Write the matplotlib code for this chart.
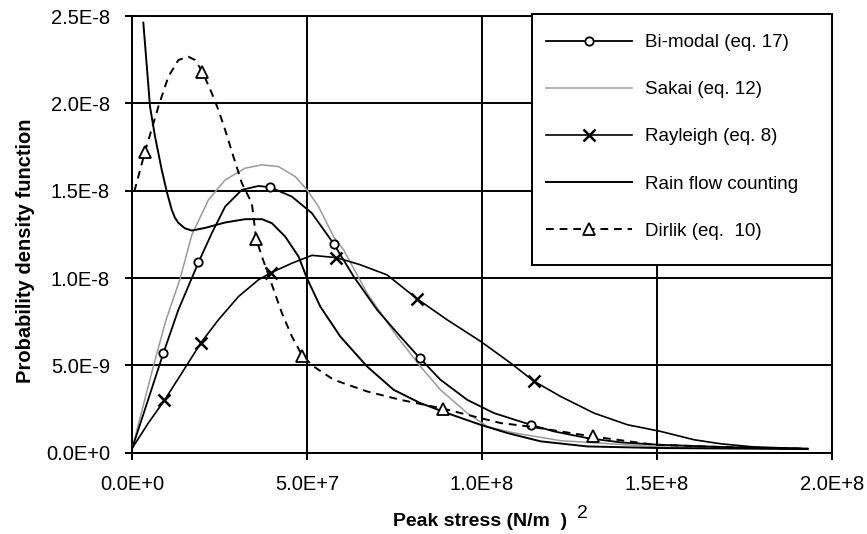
import matplotlib.pyplot as plt
from matplotlib.patches import Rectangle

plt.rcParams['font.family'] = ['Liberation Sans', 'DejaVu Sans']

# --- data (x = peak stress, y = pdf) ---
bimodal_x = [0, 8.88e6, 1.317e7, 1.890e7, 2.274e7, 2.655e7, 3.133e7, 3.608e7, 3.943e7,
             4.565e7, 5.137e7, 5.756e7, 6.329e7, 6.999e7, 7.666e7, 8.219e7, 8.811e7,
             9.576e7, 1.034e8, 1.139e8, 1.206e8, 1.301e8, 1.397e8, 1.502e8, 1.683e8, 1.931e8]
bimodal_y = [2.7e-10, 5.70e-9, 8.18e-9, 1.089e-8, 1.257e-8, 1.409e-8, 1.505e-8, 1.527e-8, 1.520e-8,
             1.466e-8, 1.371e-8, 1.197e-8, 1.009e-8, 8.18e-9, 6.65e-9, 5.42e-9, 4.18e-9,
             3.03e-9, 2.27e-9, 1.60e-9, 1.22e-9, 8.4e-10, 5.9e-10, 4.6e-10, 3.3e-10, 2.3e-10]
bimodal_marks = [1, 3, 8, 11, 15, 19]

sakai_x = [0, 6.01e6, 9.65e6, 1.366e7, 1.701e7, 2.176e7, 2.655e7, 3.227e7, 3.706e7, 4.181e7,
           4.659e7, 4.994e7, 5.327e7, 5.756e7, 6.043e7, 6.712e7, 7.572e7, 8.239e7, 8.812e7,
           9.576e7, 1.015e8, 1.09e8, 1.225e8, 1.502e8, 1.931e8]
sakai_y = [2.7e-10, 4.94e-9, 7.61e-9, 9.95e-9, 1.247e-8, 1.447e-8, 1.562e-8, 1.629e-8, 1.648e-8, 1.638e-8,
           1.581e-8, 1.505e-8, 1.409e-8, 1.237e-8, 1.161e-8, 9.14e-9, 6.65e-9, 4.94e-9, 3.60e-9,
           2.27e-9, 1.50e-9, 1.14e-9, 6.9e-10, 3.4e-10, 2.0e-10]

rayleigh_x = [0, 4.58e6, 9.16e6, 1.415e7, 1.967e7, 2.463e7, 3.036e7, 3.608e7, 3.972e7, 4.565e7,
              5.137e7, 5.833e7, 6.52e7, 7.285e7, 8.144e7, 9.003e7, 9.957e7, 1.082e8, 1.148e8,
              1.225e8, 1.320e8, 1.416e8, 1.511e8, 1.607e8, 1.683e8, 1.778e8, 1.931e8]
rayleigh_y = [2.7e-10, 1.70e-9, 2.99e-9, 4.56e-9, 6.31e-9, 7.61e-9, 8.94e-9, 9.90e-9, 1.031e-8, 1.085e-8,
              1.130e-8, 1.117e-8, 1.076e-8, 1.018e-8, 8.81e-9, 7.61e-9, 6.38e-9, 5.13e-9, 4.10e-9,
              3.22e-9, 2.27e-9, 1.60e-9, 1.22e-9, 7.4e-10, 5.1e-10, 3.3e-10, 2.3e-10]
rayleigh_marks = [2, 4, 8, 11, 14, 18]

rainflow_x = [3.15e6, 5.07e6, 6.5e6, 8.42e6, 9.85e6, 1.128e7, 1.22e7, 1.317e7, 1.50e7, 1.701e7,
              2.082e7, 2.655e7, 3.228e7, 3.706e7, 3.992e7, 4.373e7, 4.754e7, 4.994e7, 5.375e7,
              5.948e7, 6.712e7, 7.474e7, 8.238e7, 9.0e7, 9.957e7, 1.072e8, 1.168e8, 1.301e8,
              1.502e8, 1.931e8]
rainflow_y = [2.462e-8, 1.981e-8, 1.810e-8, 1.619e-8, 1.495e-8, 1.390e-8, 1.345e-8, 1.316e-8, 1.285e-8,
              1.272e-8, 1.287e-8, 1.318e-8, 1.337e-8, 1.337e-8, 1.314e-8, 1.237e-8, 1.123e-8, 9.99e-9,
              8.37e-9, 6.65e-9, 4.94e-9, 3.60e-9, 2.84e-9, 2.27e-9, 1.60e-9, 1.13e-9, 6.5e-10,
              3.6e-10, 2.7e-10, 2.1e-10]

dirlik_x = [5.7e5, 3.64e6, 7.45e6, 1.031e7, 1.317e7, 1.604e7, 1.796e7, 2.005e7, 2.274e7, 2.463e7,
            2.655e7, 2.892e7, 3.133e7, 3.419e7, 3.543e7, 3.706e7, 3.943e7, 4.278e7, 4.565e7, 4.860e7,
            5.183e7, 5.756e7, 6.712e7, 7.666e7, 8.897e7, 9.765e7, 1.053e8, 1.139e8, 1.316e8,
            1.492e8, 1.683e8, 1.931e8]
dirlik_y = [1.495e-8, 1.724e-8, 1.981e-8, 2.153e-8, 2.248e-8, 2.267e-8, 2.248e-8, 2.181e-8, 2.058e-8, 1.962e-8,
            1.848e-8, 1.695e-8, 1.543e-8, 1.428e-8, 1.223e-8, 1.123e-8, 9.90e-9, 7.99e-9, 6.65e-9, 5.55e-9,
            4.94e-9, 4.18e-9, 3.51e-9, 3.03e-9, 2.52e-9, 2.08e-9, 1.70e-9, 1.49e-9, 9.3e-10,
            4.6e-10, 3.3e-10, 2.3e-10]
dirlik_marks = [1, 7, 14, 19, 24, 28]

xticks = [0, 5e7, 1e8, 1.5e8, 2e8]
xtick_labels = ['0.0E+0', '5.0E+7', '1.0E+8', '1.5E+8', '2.0E+8']
yticks = [0, 5e-9, 1e-8, 1.5e-8, 2e-8, 2.5e-8]
ytick_labels = ['0.0E+0', '5.0E-9', '1.0E-8', '1.5E-8', '2.0E-8', '2.5E-8']

# --- figure ---
fig = plt.figure(figsize=(8.67, 5.34), dpi=100)
ax = fig.add_axes([0.1526, 0.1522, 0.8067, 0.8178])

ax.plot(bimodal_x, bimodal_y, color='black', lw=1.3, marker='o', ms=6, mfc='white',
        mec='black', mew=1.3, markevery=bimodal_marks, label='Bi-modal (eq. 17)', zorder=4)
ax.plot(sakai_x, sakai_y, color='#9a9a9a', lw=1.1, label='Sakai (eq. 12)', zorder=3)
ax.plot(rayleigh_x, rayleigh_y, color='black', lw=1.2, marker='x', ms=8, mew=1.8,
        markevery=rayleigh_marks, label='Rayleigh (eq. 8)', zorder=4)
ax.plot(rainflow_x, rainflow_y, color='black', lw=1.4, label='Rain flow counting', zorder=4)
ax.plot(dirlik_x, dirlik_y, color='black', lw=1.4, linestyle=(0, (4, 3)), marker='^', ms=8,
        mfc='white', mec='black', mew=1.3, markevery=dirlik_marks,
        label='Dirlik (eq.  10)', zorder=4)

ax.set_xlim(0, 2e8)
ax.set_ylim(0, 2.5e-8)
ax.set_xticks(xticks, labels=xtick_labels)
ax.set_yticks(yticks, labels=ytick_labels)
ax.tick_params(axis='both', labelsize=14.5, length=5, width=1.4, color='black')
ax.tick_params(axis='y', pad=11)
ax.tick_params(axis='x', pad=11)
ax.grid(True, color='black', lw=1.4)
ax.set_axisbelow(True)
for sp in ax.spines.values():
    sp.set_linewidth(1.4)
    sp.set_color('black')

# legend box drawn as its own rectangle, entries placed inside it
box = Rectangle((0.5715, 0.43), 0.4289, 0.5746, transform=ax.transAxes, facecolor='white',
                edgecolor='black', lw=1.4, zorder=9, clip_on=False)
ax.add_patch(box)
leg = ax.legend(loc='upper left', bbox_to_anchor=(0.5715, 0.43, 0.4289, 0.5609),
                mode='expand', borderaxespad=0, fontsize=13.5, handlelength=4.6,
                handletextpad=0.7, labelspacing=1.6, borderpad=0.75, numpoints=1,
                frameon=False)
leg.set_zorder(10)

fig.text(26 / 867, 1 - 251 / 534, 'Probability density function', rotation=90,
         ha='center', va='center', fontsize=14.5, fontweight='bold')
fig.text(480 / 867, 1 - 526 / 534, 'Peak stress (N/m  )', ha='center', va='baseline',
         fontsize=14, fontweight='bold')
fig.text(582 / 867, 1 - 513 / 534, '2', ha='center', va='center', fontsize=14)

fig.savefig('out.png', dpi=100)
